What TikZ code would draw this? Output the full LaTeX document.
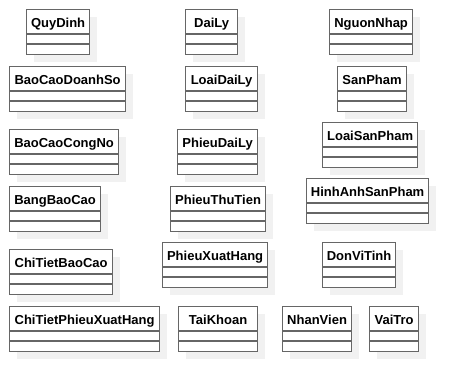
\documentclass[tikz,border=0pt]{standalone}
\usepackage{fontspec}
\setmainfont{Liberation Sans}
\usepackage{tikz}
\usetikzlibrary{shadows}

\definecolor{linegray}{HTML}{666666}
\definecolor{shadowgray}{HTML}{F1F1F1}

\tikzset{
	sep/.style = {draw=linegray, line width=1.2pt},
	classbox/.style = {draw=linegray, line width=1.2pt, fill=white, anchor=north west,
		inner sep=0pt, minimum height=45pt, text height=18pt, text depth=27pt,
		font=\bfseries\fontsize{13}{15}\selectfont,
		drop shadow={shadow xshift=7pt, shadow yshift=-7pt, fill=shadowgray, opacity=1},
		append after command={
			([yshift=-25pt]\tikzlastnode.north west) edge[sep] ([yshift=-25pt]\tikzlastnode.north east)
			([yshift=-35pt]\tikzlastnode.north west) edge[sep] ([yshift=-35pt]\tikzlastnode.north east)}}
}

\begin{document}
\begin{tikzpicture}[x=1pt, y=-1pt]
	
	\useasboundingbox (0,0) rectangle (468,390);
	
	% first column
	\node [classbox, minimum width=63] (quydinh) at (26,9) {QuyDinh};
	\node [classbox, minimum width=116] (baocaodoanhso) at (9,66) {BaoCaoDoanhSo};
	\node [classbox, minimum width=109] (baocaocongno) at (9,129) {BaoCaoCongNo};
	\node [classbox, minimum width=91] (bangbaocao) at (9,186) {BangBaoCao};
	\node [classbox, minimum width=103] (chitietbaocao) at (9,249) {ChiTietBaoCao};
	\node [classbox, minimum width=150] (chitietphieuxuathang) at (9,306) {ChiTietPhieuXuatHang};
	
	% second column
	\node [classbox, minimum width=52] (daily) at (185,9) {DaiLy};
	\node [classbox, minimum width=72] (loaidaily) at (185,66) {LoaiDaiLy};
	\node [classbox, minimum width=80] (phieudaily) at (177,129) {PhieuDaiLy};
	\node [classbox, minimum width=95] (phieuthutien) at (170,186) {PhieuThuTien};
	\node [classbox, minimum width=105] (phieuxuathang) at (162,242) {PhieuXuatHang};
	\node [classbox, minimum width=79] (taikhoan) at (178,306) {TaiKhoan};
	
	% third column
	\node [classbox, minimum width=83] (nguonnhap) at (329,9) {NguonNhap};
	\node [classbox, minimum width=69] (sanpham) at (337,66) {SanPham};
	\node [classbox, minimum width=95] (loaisanpham) at (322,122) {LoaiSanPham};
	\node [classbox, minimum width=122] (hinhanhsanpham) at (306,178) {HinhAnhSanPham};
	\node [classbox, minimum width=73] (donvitinh) at (322,242) {DonViTinh};
	\node [classbox, minimum width=69] (nhanvien) at (282,306) {NhanVien};
	\node [classbox, minimum width=49] (vaitro) at (369,306) {VaiTro};
	
\end{tikzpicture}
\end{document}
